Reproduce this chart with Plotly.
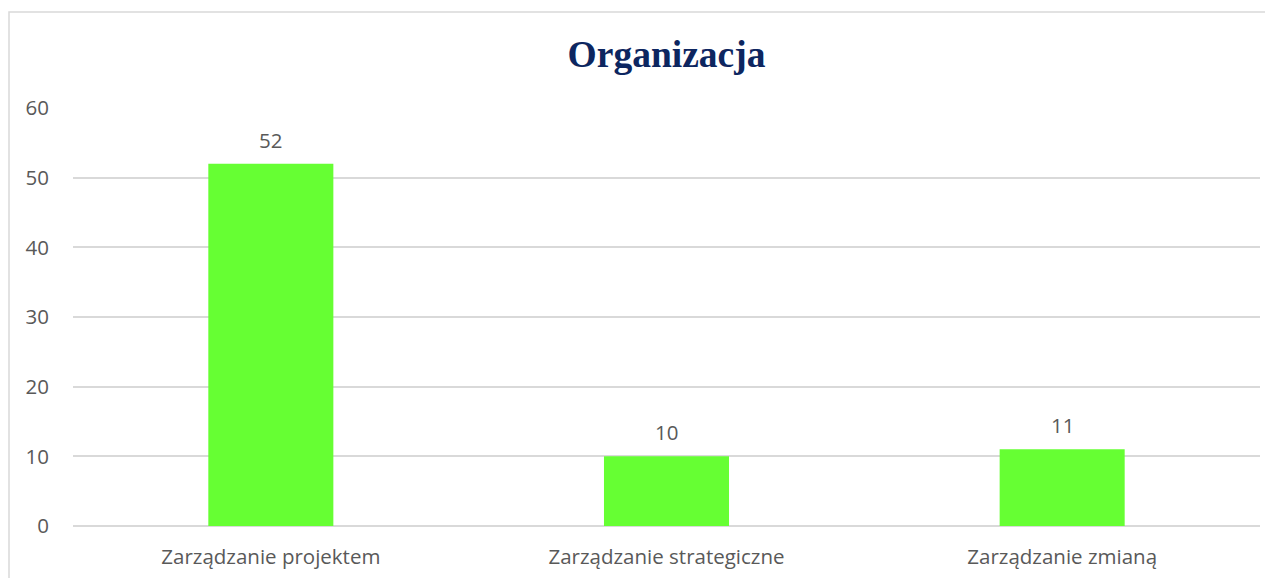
import plotly.graph_objects as go

categories = ["Zarządzanie projektem", "Zarządzanie strategiczne", "Zarządzanie zmianą"]
values = [52, 10, 11]
y_ticks = [0, 10, 20, 30, 40, 50, 60]
title_text = "Organizacja"

BAR_COLOR = "#66FF33"
TEXT_COLOR = "#595959"
GRID_COLOR = "#d9d9d9"

fig = go.Figure()
fig.add_trace(go.Bar(
    x=categories, y=values, marker=dict(color=BAR_COLOR, line=dict(width=0)),
    width=0.316, hoverinfo="skip",
))

for c, v in zip(categories, values):
    fig.add_annotation(x=c, y=v, text=str(v), showarrow=False, yanchor="middle",
                       yshift=24, font=dict(family="Open Sans", size=20.5, color=TEXT_COLOR))

W, H = 1273, 578
# page body adds an 8px offset; positions below are in figure coordinates
L, R, T, B = 65, 21, 100, 60
pw, ph = W - L - R, H - T - B
fig.add_shape(type="rect", xref="paper", yref="paper",
              x0=(1 - L) / pw, x1=1.1, y0=-0.5, y1=1 + (T - 4) / ph,
              line=dict(color=GRID_COLOR, width=1.5), fillcolor="rgba(0,0,0,0)", layer="below")

fig.update_layout(
    width=W, height=H,
    margin=dict(l=L, r=R, t=T, b=B),
    paper_bgcolor="white", plot_bgcolor="white",
    showlegend=False,
    title=dict(text=f"<b>{title_text}</b>", x=0.5, xanchor="center", xref="paper",
               y=1 - 46 / H, yanchor="middle", yref="container",
               font=dict(family="Liberation Serif", size=37.5, color="#0d2660")),
    font=dict(family="Open Sans", size=20.5, color=TEXT_COLOR),
    xaxis=dict(showgrid=False, zeroline=False, showline=False, ticks="",
               ticklabelstandoff=16, tickfont=dict(size=20.5, color=TEXT_COLOR)),
    yaxis=dict(range=[0, 60], tickvals=y_ticks, showgrid=True, gridcolor=GRID_COLOR, gridwidth=1.5,
               zeroline=True, zerolinecolor=GRID_COLOR, zerolinewidth=1.5, showline=False,
               ticks="", ticklabelstandoff=23, tickfont=dict(size=20.5, color=TEXT_COLOR)),
)

fig.write_html("out.html")
